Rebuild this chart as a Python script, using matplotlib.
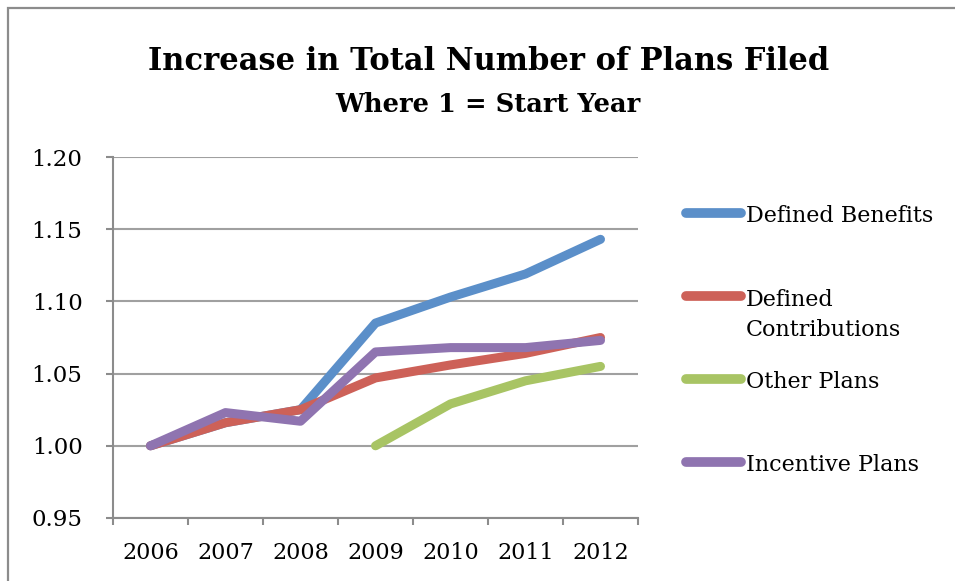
import matplotlib
matplotlib.use("Agg")
import matplotlib.pyplot as plt
from matplotlib.lines import Line2D
from matplotlib.patches import Rectangle
import numpy as np

years = ["2006", "2007", "2008", "2009", "2010", "2011", "2012"]
defined_benefits = [1.000, 1.016, 1.025, 1.085, 1.103, 1.119, 1.143]
defined_contrib = [1.000, 1.016, 1.025, 1.047, 1.056, 1.064, 1.075]
other_plans = [np.nan, np.nan, np.nan, 1.000, 1.029, 1.045, 1.055]
incentive_plans = [1.000, 1.023, 1.017, 1.065, 1.068, 1.068, 1.073]

series_names = ["Defined Benefits", "Defined\nContributions", "Other Plans", "Incentive Plans"]
series_values = [defined_benefits, defined_contrib, other_plans, incentive_plans]
colors = ["#5B8FC9", "#CD6158", "#A8C464", "#8F74B0"]

plt.rcParams["font.family"] = ["DejaVu Serif"]

W, H = 955, 581
fig = plt.figure(figsize=(W / 100, H / 100), dpi=100)

# outer chart frame (only top and left edges fall inside the image)
fig.patches.append(Rectangle((8 / W, -0.5), 2.0, 1.5 - 8 / H, transform=fig.transFigure,
                             fill=False, edgecolor="#8C8C8C", linewidth=1.6))

ax = fig.add_axes([113 / W, 1 - 518 / H, 525 / W, 361 / H])
x = np.arange(len(years))
for vals, col in zip(series_values, colors):
    ax.plot(x, vals, color=col, linewidth=6.5, solid_capstyle="round",
            solid_joinstyle="round")

ax.set_xlim(-0.5, len(years) - 0.5)
ax.set_ylim(0.95, 1.20)
ax.set_yticks(np.arange(0.95, 1.2001, 0.05))
ax.set_yticklabels([f"{v:.2f}" for v in np.arange(0.95, 1.2001, 0.05)])
ax.set_xticks(x)
ax.set_xticklabels(years)
ax.set_xticks(np.arange(-0.5, len(years)), minor=True)

grid_col = "#A0A0A0"
ax.yaxis.grid(True, color=grid_col, linewidth=1.5)
ax.set_axisbelow(True)
for side in ["top", "right"]:
    ax.spines[side].set_visible(False)
for side in ["left", "bottom"]:
    ax.spines[side].set_color("#8C8C8C")
    ax.spines[side].set_linewidth(1.5)

ax.tick_params(axis="y", which="major", length=5, width=1.5, color="#8C8C8C",
               pad=17, labelsize=16.5)
ax.tick_params(axis="x", which="major", length=0, pad=17, labelsize=16)
ax.tick_params(axis="x", which="minor", length=5, width=1.5, color="#8C8C8C")

fig.text(489 / W, 1 - 69.5 / H, "Increase in Total Number of Plans Filed",
         ha="center", va="baseline", fontsize=22, fontweight="bold")
fig.text(488 / W, 1 - 112.5 / H, "Where 1 = Start Year",
         ha="center", va="baseline", fontsize=18.5, fontweight="bold")

# legend on the right
legend_line_y = [212.7, 296, 379, 461.7]
legend_text_top = [205, 288.5, 371.5, 454]
for name, col, ly, ty in zip(series_names, colors, legend_line_y, legend_text_top):
    fig.lines.append(Line2D([686 / W, 741 / W], [1 - ly / H, 1 - ly / H],
                            transform=fig.transFigure, color=col, linewidth=7,
                            solid_capstyle="round"))
    fig.text(746 / W, 1 - ty / H, name, ha="left", va="top", fontsize=16,
             linespacing=1.5)

fig.savefig("out.png", dpi=100)
